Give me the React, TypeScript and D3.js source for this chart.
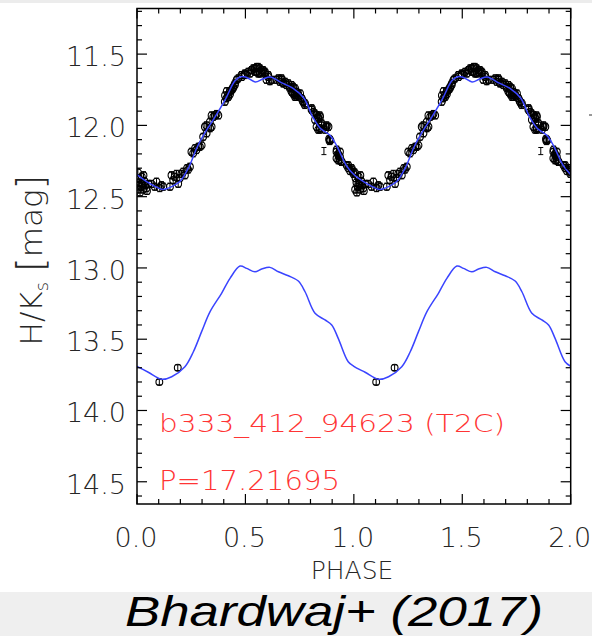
import React from "react";
import * as d3 from "d3";

// ---------- data ----------
const xTickLabels = ["0.0", "0.5", "1.0", "1.5", "2.0"];
const xTickValues = [0, 0.5, 1, 1.5, 2];
const yTickLabels = ["11.5", "12.0", "12.5", "13.0", "13.5", "14.0", "14.5"];
const yTickValues = [11.5, 12.0, 12.5, 13.0, 13.5, 14.0, 14.5];

// template curve, upper band (phase, mag)
const curveTop: [number, number][] = [
  [0, 12.345], [0.05, 12.4], [0.1, 12.44], [0.12, 12.45], [0.16, 12.43], [0.2, 12.39],
  [0.24, 12.29], [0.275, 12.16], [0.31, 12.06], [0.36, 11.94], [0.41, 11.81], [0.45, 11.69],
  [0.475, 11.66], [0.5, 11.66], [0.545, 11.695], [0.58, 11.675], [0.615, 11.66], [0.665, 11.7],
  [0.72, 11.74], [0.77, 11.81], [0.81, 11.94], [0.845, 12.02], [0.89, 12.07], [0.92, 12.14],
  [0.965, 12.28], [1.0, 12.345],
];

// template curve, lower band (phase, mag)
const curveBottom: [number, number][] = [
  [0, 13.69], [0.052, 13.732], [0.114, 13.781], [0.16, 13.763], [0.221, 13.693], [0.26, 13.588],
  [0.298, 13.447], [0.337, 13.307], [0.39, 13.178], [0.429, 13.073], [0.475, 12.987], [0.506, 13.003],
  [0.544, 13.027], [0.575, 13.008], [0.613, 12.996], [0.652, 13.027], [0.698, 13.055], [0.744, 13.092],
  [0.775, 13.167], [0.821, 13.318], [0.867, 13.365], [0.898, 13.4], [0.928, 13.494], [0.974, 13.658],
  [1.0, 13.69],
];

// observed points, upper band (phase, mag)
const pointsTop: [number, number][] = [
  [0.004, 12.33], [0.008, 12.37], [0.012, 12.4], [0.018, 12.43], [0.022, 12.36], [0.028, 12.45],
  [0.034, 12.39], [0.04, 12.42], [0.046, 12.46], [0.052, 12.41], [0.006, 12.45], [0.014, 12.47],
  [0.03, 12.35], [0.021, 12.41], [0.036, 12.42], [0.044, 12.44],
  [0.067, 12.41], [0.082, 12.43], [0.09, 12.395], [0.105, 12.44], [0.113, 12.42], [0.121, 12.43],
  [0.152, 12.43], [0.159, 12.35], [0.167, 12.385], [0.174, 12.36], [0.182, 12.34], [0.19, 12.41],
  [0.197, 12.37], [0.205, 12.34], [0.213, 12.325], [0.221, 12.35], [0.231, 12.3], [0.236, 12.31],
  [0.244, 12.29],
  [0.251, 12.185], [0.259, 12.196], [0.268, 12.16], [0.274, 12.173], [0.283, 12.15], [0.29, 12.15],
  [0.298, 12.14],
  [0.305, 12.08], [0.313, 12.01], [0.32, 12.0], [0.321, 12.056], [0.337, 12.02], [0.336, 11.975],
  [0.344, 12.01], [0.344, 11.93], [0.352, 11.94], [0.36, 11.93], [0.367, 11.92], [0.375, 11.93],
  [0.405, 11.834], [0.406, 11.79], [0.413, 11.81], [0.414, 11.76], [0.42, 11.788], [0.421, 11.8],
  [0.428, 11.764], [0.429, 11.78], [0.436, 11.752], [0.437, 11.75], [0.443, 11.74], [0.444, 11.73],
  [0.451, 11.717], [0.452, 11.705], [0.46, 11.68], [0.467, 11.67],
  [0.482, 11.647], [0.483, 11.66], [0.497, 11.636], [0.498, 11.647], [0.513, 11.624], [0.521, 11.636],
  [0.528, 11.612], [0.529, 11.612], [0.536, 11.6], [0.544, 11.6], [0.544, 11.624], [0.551, 11.624],
  [0.552, 11.59], [0.559, 11.59], [0.559, 11.636], [0.567, 11.6], [0.567, 11.636], [0.575, 11.612],
  [0.575, 11.624], [0.582, 11.612], [0.59, 11.624], [0.59, 11.636], [0.597, 11.68], [0.605, 11.647],
  [0.605, 11.66], [0.613, 11.69], [0.621, 11.68], [0.643, 11.68], [0.652, 11.67], [0.659, 11.694],
  [0.667, 11.68], [0.667, 11.67], [0.674, 11.705], [0.675, 11.705], [0.683, 11.694],
  [0.689, 11.717], [0.698, 11.705], [0.705, 11.74], [0.706, 11.73], [0.713, 11.717], [0.713, 11.764],
  [0.72, 11.776], [0.721, 11.73], [0.721, 11.776], [0.728, 11.788], [0.729, 11.74], [0.729, 11.8],
  [0.736, 11.764], [0.736, 11.8], [0.743, 11.776], [0.744, 11.79], [0.752, 11.776], [0.758, 11.81],
  [0.759, 11.81], [0.766, 11.834], [0.767, 11.834], [0.774, 11.857], [0.775, 11.846], [0.805, 11.89],
  [0.806, 11.88], [0.813, 11.905], [0.82, 11.916], [0.821, 11.96], [0.828, 12.01], [0.829, 11.928],
  [0.835, 11.94], [0.836, 11.95], [0.836, 12.03], [0.843, 11.93], [0.843, 12.03], [0.844, 11.94],
  [0.844, 12.02], [0.851, 12.0], [0.852, 11.986], [0.867, 12.03], [0.874, 12.01], [0.875, 12.0],
  [0.883, 12.01],
  [0.886, 12.095], [0.889, 12.1], [0.892, 12.105], [0.888, 12.11],
  [0.92, 12.185], [0.92, 12.23], [0.921, 12.17], [0.928, 12.2], [0.928, 12.21], [0.928, 12.245],
  [0.935, 12.245], [0.936, 12.22], [0.936, 12.185], [0.943, 12.255], [0.944, 12.255],
  [0.967, 12.28], [0.974, 12.28], [0.975, 12.3], [0.983, 12.32], [0.99, 12.31], [0.99, 12.3],
  [0.998, 12.34], [0.998, 12.325],
];

// error bar shown without a symbol
const barOnlyTop: [number, number][] = [[0.862, 12.18]];

// observed points, lower band
const pointsBottom: [number, number][] = [[0.103, 13.8], [0.188, 13.7]];

const errTop = 0.025;
const errBottom = 0.02;
const cycles = [0, 1];

const starName = "b333_412_94623 (T2C)";
const periodLabel = "P=17.21695";
const xTitle = "PHASE";
const credit = "Bhardwaj+ (2017)";

// ---------- layout ----------
const W = 592;
const H = 636;
const left = 137;
const right = 570.7;
const top = 8.5;
const bottom = 504;

export default function App() {
  const x = d3.scaleLinear().domain([0, 2]).range([left, right]);
  const y = d3.scaleLinear().domain([11.18, 14.656]).range([top, bottom]);

  const line = d3
    .line<[number, number]>()
    .x((d) => x(d[0]))
    .y((d) => y(d[1]))
    .curve(d3.curveCatmullRom.alpha(0.5));

  const unfold = (arr: [number, number][]) => {
    const out: [number, number][] = [];
    cycles.forEach((c, i) => {
      arr.forEach((d, j) => {
        if (i > 0 && j === 0) return;
        out.push([d[0] + c, d[1]]);
      });
    });
    return out;
  };

  const xMinor = d3.range(0, 2.0001, 0.1);
  const yMinor = d3.range(11.2, 14.66, 0.1);

  const font = "'DejaVu Sans', sans-serif";
  const tickCol = "#262626";
  const thin = 200;

  const renderPoint = (p: [number, number], c: number, err: number, key: string, withCircle = true) => {
    const cx = x(p[0] + c);
    if (cx > right + 0.5) return null;
    const cy = y(p[1]);
    const y1 = y(p[1] - err);
    const y2 = y(p[1] + err);
    return (
      <g key={key}>
        <line x1={cx} x2={cx} y1={y1} y2={y2} stroke="#000" strokeWidth={1} />
        <line x1={cx - 2.5} x2={cx + 2.5} y1={y1} y2={y1} stroke="#000" strokeWidth={1} />
        <line x1={cx - 2.5} x2={cx + 2.5} y1={y2} y2={y2} stroke="#000" strokeWidth={1} />
        {withCircle && <circle cx={cx} cy={cy} r={3.4} fill="none" stroke="#000" strokeWidth={1.1} />}
      </g>
    );
  };

  return (
    <svg
      width={W}
      height={H}
      viewBox={`0 0 ${W} ${H}`}
      style={{ position: "absolute", left: 0, top: 0, background: "#fff" }}
    >
      <rect x={0} y={0} width={W} height={H} fill="#fff" />
      <rect x={0} y={0} width={W} height={3} fill="#ececec" />
      <rect x={0} y={592} width={W} height={44} fill="#efefef" />

      <defs>
        <clipPath id="plotclip">
          <rect x={left} y={top} width={right - left} height={bottom - top} />
        </clipPath>
      </defs>

      {/* points */}
      <g clipPath="url(#plotclip)">
        {cycles.map((c) => pointsTop.map((p, i) => renderPoint(p, c, errTop, `t${c}-${i}`)))}
        {cycles.map((c) => barOnlyTop.map((p, i) => renderPoint(p, c, errTop, `b${c}-${i}`, false)))}
        {cycles.map((c) => pointsBottom.map((p, i) => renderPoint(p, c, errBottom, `k${c}-${i}`)))}
      </g>

      {/* curves */}
      <g clipPath="url(#plotclip)">
        <path d={line(unfold(curveTop)) || ""} fill="none" stroke="#3a44ff" strokeWidth={1.5} />
        <path d={line(unfold(curveBottom)) || ""} fill="none" stroke="#3a44ff" strokeWidth={1.5} />
      </g>

      {/* frame */}
      <rect x={left} y={top} width={right - left} height={bottom - top} fill="none" stroke="#000" strokeWidth={1.5} />

      {/* x ticks */}
      {xMinor.map((v, i) => {
        const major = i % 5 === 0;
        const len = major ? 10 : 5;
        return (
          <g key={`xt${i}`}>
            <line x1={x(v)} x2={x(v)} y1={bottom} y2={bottom - len} stroke="#000" strokeWidth={1.2} />
            <line x1={x(v)} x2={x(v)} y1={top} y2={top + len} stroke="#000" strokeWidth={1.2} />
          </g>
        );
      })}
      {/* y ticks */}
      {yMinor.map((v, i) => {
        const major = Math.abs(v * 2 - Math.round(v * 2)) < 1e-6;
        const len = major ? 10 : 5;
        return (
          <g key={`yt${i}`}>
            <line x1={left} x2={left + len} y1={y(v)} y2={y(v)} stroke="#000" strokeWidth={1.2} />
            <line x1={right} x2={right - len} y1={y(v)} y2={y(v)} stroke="#000" strokeWidth={1.2} />
          </g>
        );
      })}

      {/* tick labels */}
      {xTickValues.map((v, i) => (
        <text
          key={`xl${i}`}
          x={x(v) - 1}
          y={537}
          textAnchor="middle"
          dominantBaseline="central"
          fontFamily={font}
          fontWeight={thin}
          fontSize={27}
          fill={tickCol}
        >
          {xTickLabels[i]}
        </text>
      ))}
      {yTickValues.map((v, i) => (
        <text
          key={`yl${i}`}
          x={126}
          y={y(v) + 2.5}
          textAnchor="end"
          dominantBaseline="central"
          fontFamily={font}
          fontWeight={thin}
          fontSize={27}
          fill={tickCol}
        >
          {yTickLabels[i]}
        </text>
      ))}

      {/* axis titles */}
      <text
        x={352}
        y={579}
        textAnchor="middle"
        fontFamily={font}
        fontWeight={thin}
        fontSize={25}
        fill={tickCol}
      >
        {xTitle}
      </text>
      <text
        transform="translate(42,260) rotate(-90)"
        textAnchor="middle"
        fontFamily={font}
        fontWeight={thin}
        fontSize={31}
        fill={tickCol}
      >
        <tspan>H/K</tspan>
        <tspan fontSize={18} dy={6}>s</tspan>
        <tspan dy={-6}> </tspan>
        <tspan fontSize={38} dy={1}>[</tspan>
        <tspan dy={-1}>mag</tspan>
        <tspan fontSize={38} dy={1}>]</tspan>
      </text>

      {/* annotations */}
      <text
        x={159}
        y={432}
        fontFamily={font}
        fontWeight={thin}
        fontSize={25}
        fill="#ff3434"
        textLength={346}
        lengthAdjust="spacingAndGlyphs"
      >
        {starName}
      </text>
      <text
        x={159}
        y={490}
        fontFamily={font}
        fontWeight={thin}
        fontSize={26}
        fill="#ff3434"
        textLength={181}
        lengthAdjust="spacingAndGlyphs"
      >
        {periodLabel}
      </text>

      <text
        x={125}
        y={626}
        fontFamily="'Liberation Sans', Arial, sans-serif"
        fontStyle="italic"
        fontSize={43}
        fill="#000"
        textLength={418}
        lengthAdjust="spacingAndGlyphs"
      >
        {credit}
      </text>

      <line x1={589} x2={592} y1={115} y2={115} stroke="#333" strokeWidth={1} />
    </svg>
  );
}
